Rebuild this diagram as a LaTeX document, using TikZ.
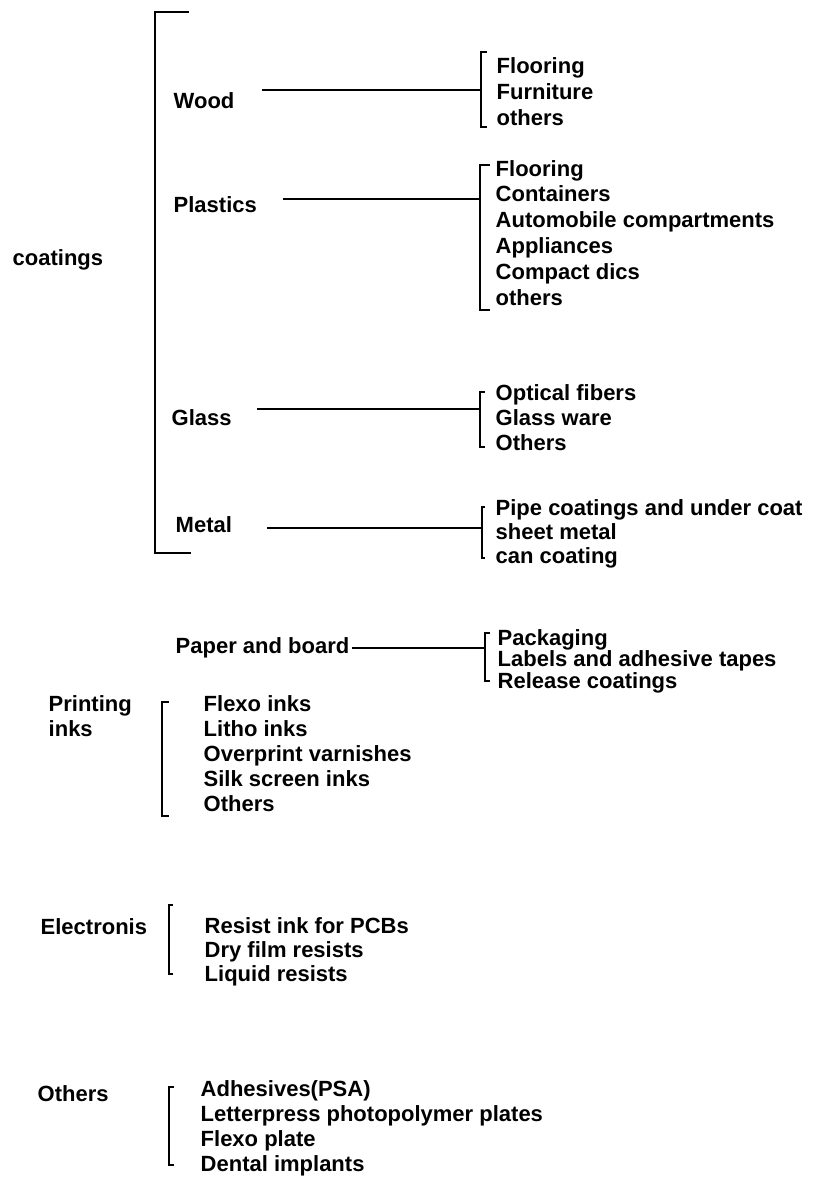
\documentclass[tikz,border=0pt]{standalone}
\usepackage{fontspec}
\setmainfont{Liberation Sans}
\begin{document}
\begin{tikzpicture}[x=1pt, y=-1pt, line width=1.4pt,
          txt/.style={anchor=base west, inner sep=0pt, align=left, font=\bfseries\fontsize{22}{25}\selectfont},
          lst/.style={txt},
          link/.style={line width=1.4pt}]
        \useasboundingbox (0,0) rectangle (819,1178);
        % left column (multi-line nodes sit on their last baseline)
        \node[txt] (coat) at (12,265) {coatings};
        \node[txt] (print) at (48,736) {Printing\\inks};
        \node[txt] (elec) at (40,934) {Electronis};
        \node[txt] (oth) at (37,1101) {Others};
        % coatings branches
        \node[txt] (wood) at (173,108) {Wood};
        \node[txt] (plast) at (173,212) {Plastics};
        \node[txt] (glass) at (171,425) {Glass};
        \node[txt] (metal) at (175,532) {Metal};
        \node[txt, inner xsep=2pt] (paper) at (173,653) {Paper and board};
        % end lists
        \node[lst, font=\bfseries\fontsize{22}{26}\selectfont] (woodl) at (496,125) {Flooring\\Furniture\\others};
        \node[lst, font=\bfseries\fontsize{22}{25.8}\selectfont] (plastl) at (495,305) {Flooring\\Containers\\Automobile compartments\\Appliances\\Compact dics\\others};
        \node[lst] (glassl) at (495,450) {Optical fibers\\Glass ware\\Others};
        \node[lst, font=\bfseries\fontsize{22}{24}\selectfont] (metall) at (495,563) {Pipe coatings and under coat\\sheet metal\\can coating};
        \node[lst, font=\bfseries\fontsize{22}{21.5}\selectfont] (paperl) at (497,688) {Packaging\\Labels and adhesive tapes\\Release coatings};
        \node[lst] (printl) at (203,811) {Flexo inks\\Litho inks\\Overprint varnishes\\Silk screen inks\\Others};
        \node[lst, font=\bfseries\fontsize{22}{24}\selectfont] (elecl) at (204,981) {Resist ink for PCBs\\Dry film resists\\Liquid resists};
        \node[lst] (othl) at (200,1171) {Adhesives(PSA)\\Letterpress photopolymer plates\\Flexo plate\\Dental implants};
        % brackets
        \draw[line width=2pt] (189,12) -- (155,12) -- (155,553) -- (191,553);
        \foreach \x/\t/\b/\k in {481/52/127/6, 480/165/310/10, 480/392/447/5, 482/507/558/3,
                                485/633/681/5, 162/702/816/7, 169/905/974/4, 169/1087/1165/5}
          \draw (\x+\k,\t) -- (\x,\t) -- (\x,\b) -- (\x+\k,\b);
        % connectors
        \coordinate (w0) at (262,90);  \coordinate (w1) at (481,90);
        \coordinate (p0) at (283,199); \coordinate (p1) at (480,199);
        \coordinate (g0) at (257,409); \coordinate (g1) at (480,409);
        \coordinate (m0) at (267,528); \coordinate (m1) at (482,528);
        \coordinate (b1) at (485,648);
        \draw[link] (w0) -- (w1);
        \draw[link] (p0) -- (p1);
        \draw[link] (g0) -- (g1);
        \draw[link] (m0) -- (m1);
        \draw[link] (paper.east |- b1) -- (b1);
      \end{tikzpicture}
\end{document}
